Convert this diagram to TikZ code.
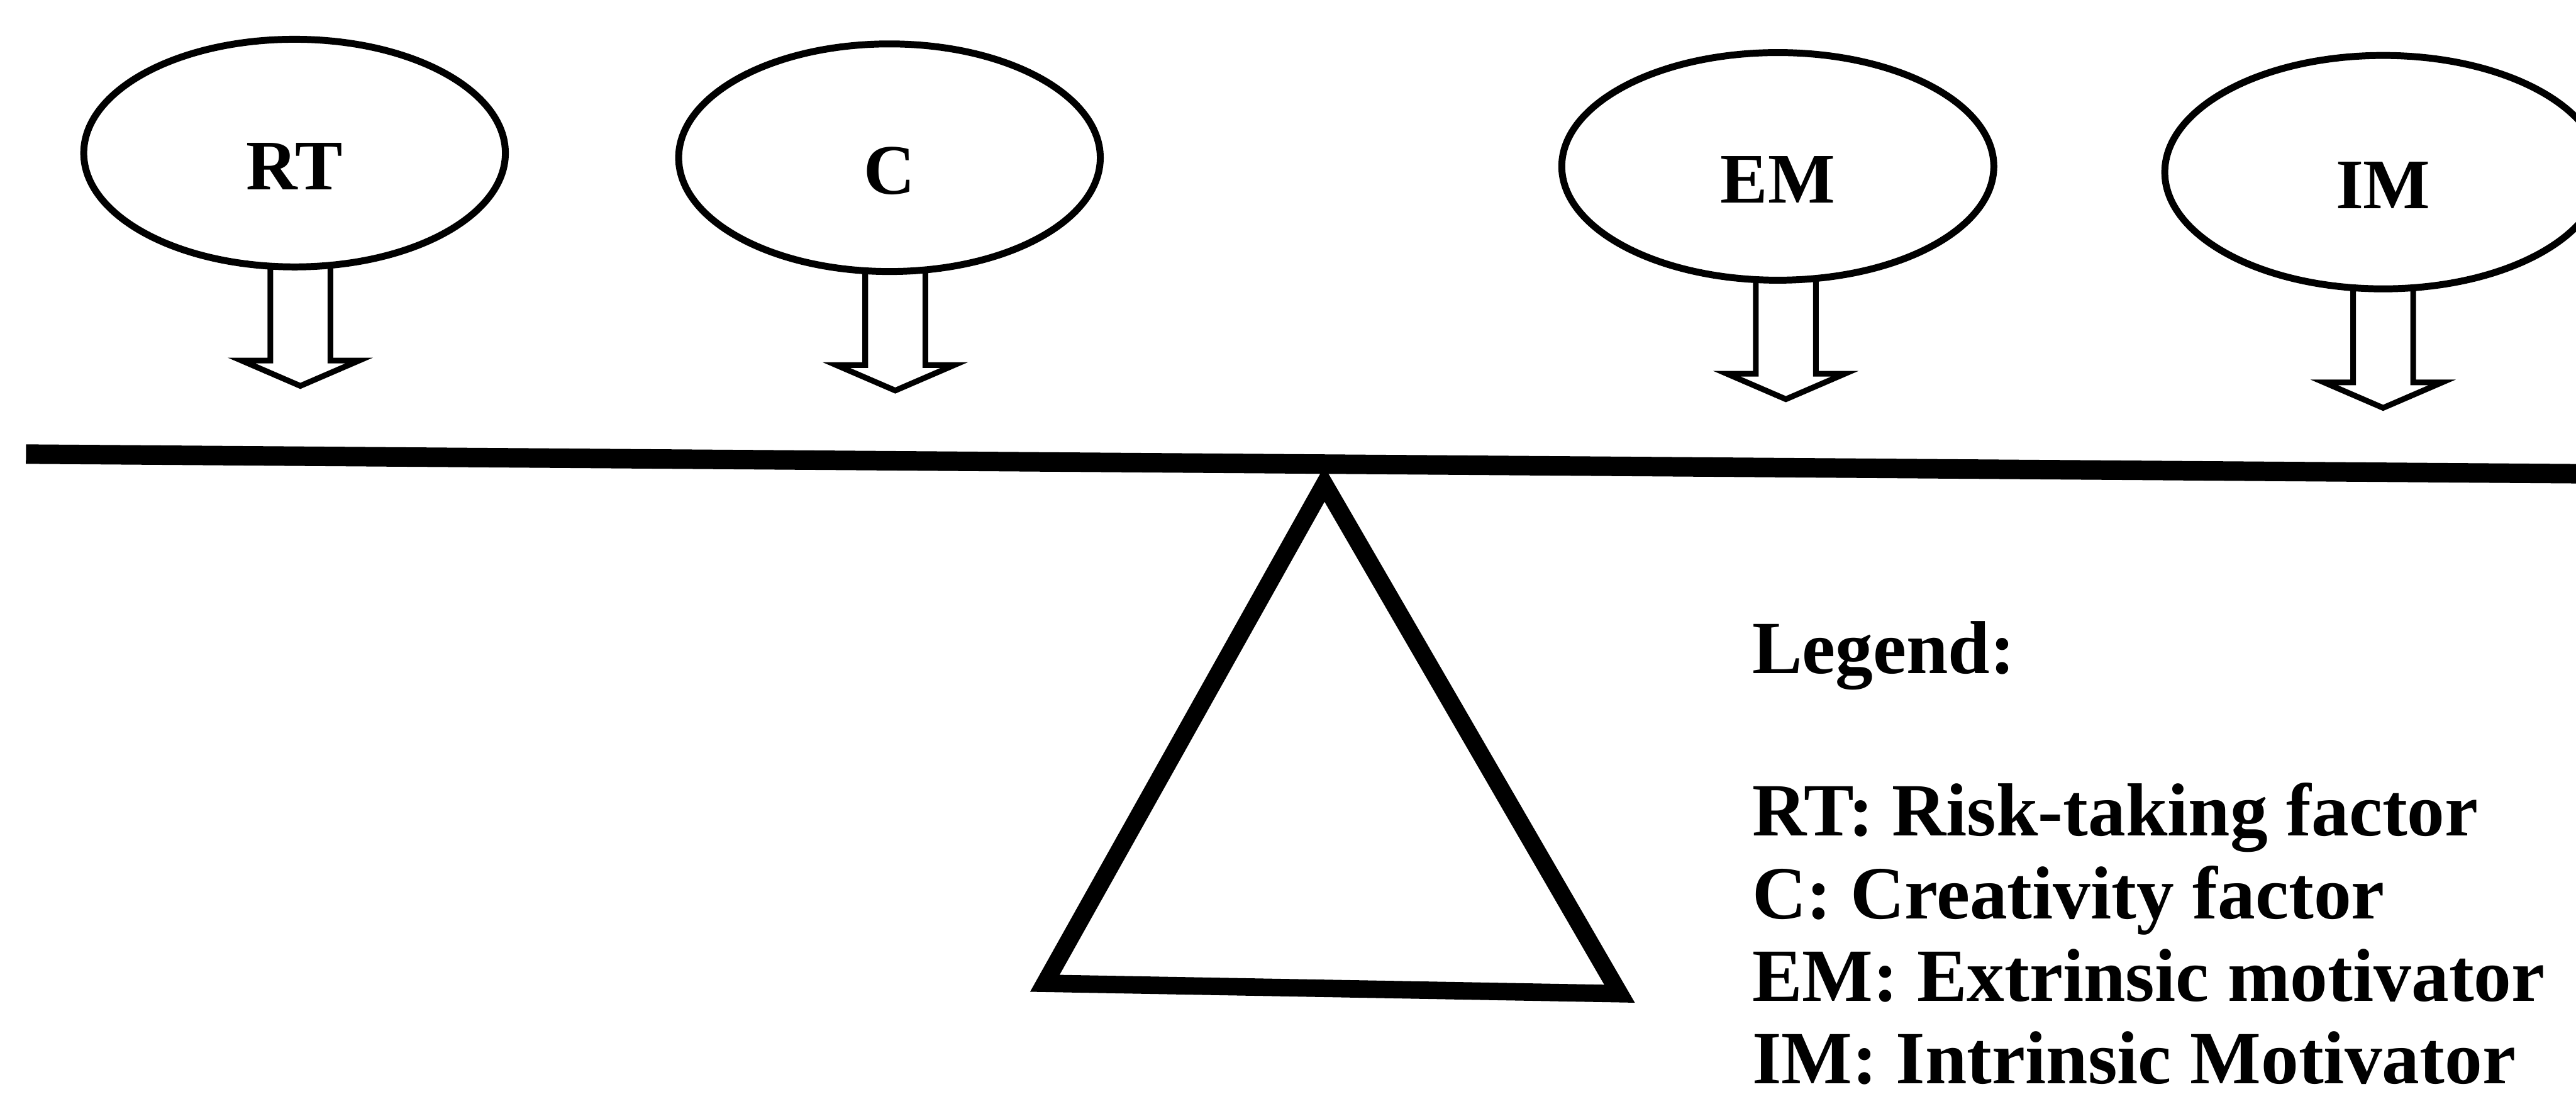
\documentclass[tikz,border=0pt]{standalone}
\usepackage{fontspec}
\setmainfont{Liberation Serif}
\usetikzlibrary{shapes.geometric}

\begin{document}
\begin{tikzpicture}[
		factor/.style={ellipse,draw,line width=3.4pt,minimum width=7.3cm,minimum height=3.94cm,
			inner sep=0pt,text height=1.26cm,text depth=0pt,font=\fontsize{35}{42}\selectfont\bfseries},
		beam/.style={line width=9.6pt},
		fulcrum/.style={line width=8.6pt,line join=miter},
		legend text/.style={anchor=base west,inner sep=0pt,font=\fontsize{37}{44}\selectfont\bfseries},
		downarrow/.pic={\draw[line width=2.8pt] (-0.52,0.05) -- (-0.52,-1.56) -- (-1.02,-1.56)
			-- (0,-2.0) -- (1.02,-1.56) -- (0.52,-1.56) -- (0.52,0.05);}
		]
		\useasboundingbox (0,0) rectangle (44.6,19.02);

		\node[factor] (rt) at (5.10,16.37) {RT};
		\node[factor] (cr) at (15.40,16.29) {C};
		\node[factor,minimum width=7.48cm] (em) at (30.78,16.14) {EM};
		\node[factor,minimum width=7.56cm,minimum height=4.04cm] (im) at (41.26,16.04) {IM};

		\pic at ([xshift=1mm]rt.south) {downarrow};
		\pic at ([xshift=1mm]cr.south) {downarrow};
		\pic at ([xshift=1.4mm]em.south) {downarrow};
		\pic at (im.south) {downarrow};

		% lever and fulcrum
		\coordinate (beamL) at (0.45,11.16);
		\coordinate (beamR) at (44.6,10.82);
		\coordinate (apex)  at (22.93,10.64);
		\coordinate (baseL) at (18.09,2.00);
		\coordinate (baseR) at (28.04,1.82);
		\draw[beam] (beamL) -- (beamR);
		\draw[fulcrum] (apex) -- (baseL) -- (baseR) -- cycle;

		\node[legend text] (legend) at (30.33,7.36) {Legend:};
		\node[legend text] (legrt)  at (30.33,4.55) {RT: Risk-taking factor};
		\node[legend text] (legc)   at (30.33,3.12) {C: Creativity factor};
		\node[legend text] (legem)  at (30.33,1.69) {EM: Extrinsic motivator};
		\node[legend text] (legim)  at (30.33,0.26) {IM: Intrinsic Motivator};
	\end{tikzpicture}
\end{document}
